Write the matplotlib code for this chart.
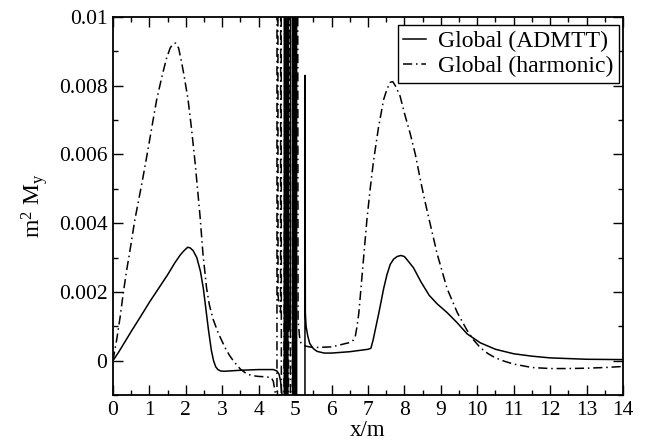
import matplotlib
matplotlib.use("Agg")
import matplotlib.pyplot as plt
from matplotlib.ticker import MultipleLocator, FuncFormatter

plt.rcParams['font.family'] = ['Liberation Serif', 'DejaVu Serif']
plt.rcParams['mathtext.fontset'] = 'custom'
plt.rcParams['mathtext.rm'] = 'Liberation Serif'
plt.rcParams['mathtext.it'] = 'Liberation Serif:italic'

# ---- data: Global (ADMTT) ----
x_admtt = [0, 0.15, 0.3, 0.5, 0.75, 1.0, 1.25, 1.5, 1.7, 1.85, 1.95, 2.05, 2.12, 2.2, 2.3, 2.4,
           2.48, 2.55, 2.62, 2.7, 2.76, 2.82, 2.88, 2.95, 3.05,
           3.5, 4.0, 4.4, 4.5, 4.56, 4.60, 4.64, 4.67,
           4.700, 4.702, 4.720, 4.722, 4.745, 4.747, 4.780, 4.782, 4.800, 4.802,
           4.815, 4.83, 4.85, 4.87, 4.885,
           4.930, 4.932, 4.960, 4.962, 4.990, 4.992, 5.020, 5.022, 5.040, 5.042,
           5.268, 5.270, 5.280, 5.30, 5.35, 5.4, 5.5, 5.6, 5.8, 6.0, 6.5, 7.0, 7.08,
           7.14, 7.2, 7.3, 7.43, 7.52, 7.61, 7.7, 7.8, 7.9, 8.0, 8.1, 8.25, 8.45, 8.68,
           8.9, 9.17, 9.45, 9.72, 10.08, 10.5, 11.0, 11.5, 12.0, 13.0, 14.0]
y_admtt = [0, 0.00024, 0.0005, 0.00085, 0.00127, 0.0017, 0.0021, 0.0025, 0.00285, 0.00308, 0.0032,
           0.0033, 0.00328, 0.0032, 0.0030, 0.0026,
           0.0021, 0.0015, 0.0009, 0.0003, 0.0, -0.00018, -0.00026, -0.0003, -0.00031,
           -0.00028, -0.00026, -0.00026, -0.0003, -0.0004, -0.0006, -0.0010, -0.03,
           -0.03, 0.03, 0.03, -0.03, -0.03, 0.03, 0.03, -0.03, -0.03, 0.03,
           0.0025, 0.0012, 0.0009, 0.0012, 0.03,
           0.03, -0.03, -0.03, 0.03, 0.03, -0.03, -0.03, 0.03, 0.03, -0.03,
           -0.03, 0.0083, 0.0014, 0.0010, 0.0007, 0.0005, 0.00035, 0.00027, 0.00022, 0.00022,
           0.00026, 0.00033, 0.00036,
           0.0006, 0.0009, 0.0014, 0.0021, 0.0025, 0.0028, 0.00295, 0.00303, 0.00306, 0.00303,
           0.0029, 0.0027, 0.0023, 0.0019,
           0.00165, 0.0014, 0.0011, 0.00078, 0.00052, 0.00033, 0.0002, 0.00013, 0.00008,
           0.00004, 0.00003]

# ---- data: Global (harmonic) ----
x_harm = [0, 0.05, 0.1, 0.2, 0.28, 0.37, 0.45, 0.6, 0.8, 0.97, 1.1, 1.2, 1.35, 1.47, 1.57, 1.65,
          1.72, 1.8, 1.88, 1.95, 2.06, 2.15, 2.25, 2.32, 2.39, 2.47, 2.57, 2.65, 2.75, 2.89,
          3.0, 3.1, 3.2, 3.3, 3.4, 3.5, 3.6, 3.7, 3.85, 4.0, 4.2, 4.35, 4.4, 4.45, 4.48,
          4.500, 4.502, 4.520, 4.53, 4.56, 4.60, 4.610, 4.612, 4.630, 4.632,
          4.760, 4.762, 4.775, 4.777, 4.860, 4.862, 4.880, 4.882, 4.970, 4.972, 4.985, 4.987,
          5.050, 5.052, 5.08, 5.12, 5.16, 5.3, 5.5, 6.0, 6.51, 6.6, 6.65, 6.7, 6.75,
          6.79, 6.88, 6.97, 7.06, 7.15, 7.29, 7.43, 7.52, 7.61, 7.68, 7.75, 7.88, 8.0, 8.16,
          8.3, 8.43, 8.55, 8.68, 8.9, 9.17, 9.45, 9.72, 9.9, 10.08, 10.3, 10.5, 10.75, 11.0,
          11.5, 12.0, 12.5, 13.0, 13.5, 14.0]
y_harm = [0, 0.0003, 0.0006, 0.0013, 0.00195, 0.0026, 0.0031, 0.0041, 0.0052, 0.0062, 0.0070,
          0.0076, 0.0083, 0.0088, 0.0091, 0.00922, 0.00924, 0.0091, 0.0087, 0.0083, 0.0076,
          0.0068, 0.0058, 0.0050, 0.0042, 0.0031, 0.0021, 0.0016, 0.0012, 0.0008,
          0.00055, 0.00033, 0.00015, 0.0, -0.00013, -0.00025, -0.00033, -0.0004, -0.00044,
          -0.00046, -0.00047, -0.0005, -0.0006, -0.0009, -0.03,
          -0.03, 0.03, 0.03, 0.0019, 0.0016, 0.0014, 0.03, 0.03, -0.03, -0.03,
          0.03, 0.03, -0.03, -0.03, 0.03, 0.03, -0.03, -0.03, 0.03, 0.03, -0.03, -0.03,
          0.03, 0.03, 0.0012, 0.0007, 0.0005, 0.00042, 0.00038, 0.0004, 0.00053, 0.0006,
          0.0007, 0.0010, 0.0014,
          0.0019, 0.0030, 0.0041, 0.0050, 0.0058, 0.0068, 0.0076, 0.0079, 0.0081, 0.00812,
          0.0080, 0.0077, 0.0072, 0.0066,
          0.0060, 0.0053, 0.0047, 0.0041, 0.0031, 0.0021, 0.0014, 0.00088, 0.0006, 0.00038,
          0.0002, 0.00008, -0.00002, -0.0001,
          -0.0002, -0.00023, -0.00023, -0.00022, -0.0002, -0.00017]

labels = ['Global (ADMTT)', 'Global (harmonic)']
xticks = list(range(0, 15))
yticks = [0, 0.002, 0.004, 0.006, 0.008, 0.01]

fig = plt.figure(figsize=(6.47, 4.41), dpi=100)
ax = fig.add_axes([113/647, 46/441, 510/647, 378/441])

ax.plot(x_admtt, y_admtt, color='black', lw=1.1, label=labels[0])
ln, = ax.plot(x_harm, y_harm, color='black', lw=1.1, label=labels[1])
ln.set_dashes([6, 2.5, 1, 2.5])

ax.set_xlim(0, 14)
ax.set_ylim(-0.001, 0.01)
ax.set_xticks(xticks)
ax.set_yticks(yticks)
ax.xaxis.set_minor_locator(MultipleLocator(0.5))
ax.yaxis.set_minor_locator(MultipleLocator(0.001))
ax.yaxis.set_major_formatter(FuncFormatter(lambda v, p: '%g' % v))
ax.tick_params(which='both', direction='in', top=True, right=True, width=1.0,
               labelsize=15.5, pad=4)
ax.tick_params(which='major', length=7)
ax.tick_params(which='minor', length=3.5)
for s in ax.spines.values():
    s.set_linewidth(1.3)

ax.set_xlabel('x/m', fontsize=16.5, labelpad=0)
ax.set_ylabel(r'm$^{\mathrm{2}}$ M$_{\mathrm{y}}$', fontsize=17, labelpad=6)

leg = ax.legend(loc='upper right', bbox_to_anchor=(0.992, 0.979), borderaxespad=0,
                fontsize=17, fancybox=False, framealpha=1, edgecolor='black',
                handlelength=0.95, handletextpad=0.5, borderpad=0.25, labelspacing=0.15)
leg.get_frame().set_linewidth(1.0)

fig.savefig('out.png', dpi=100)
